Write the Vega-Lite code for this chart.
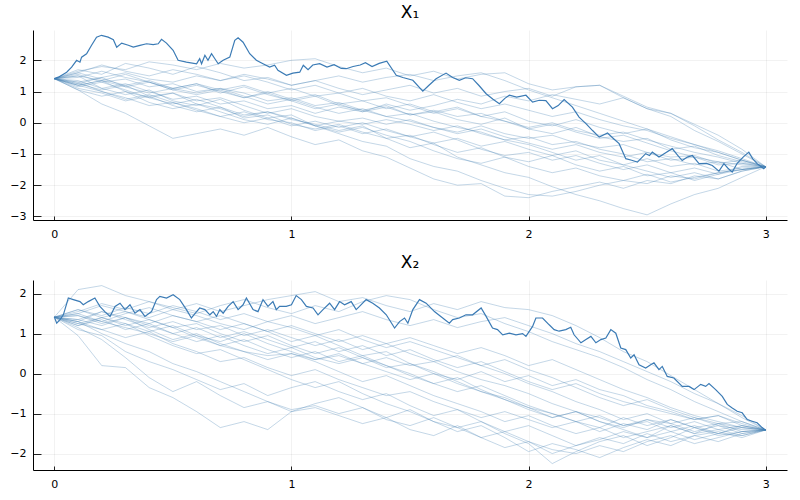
{
"$schema": "https://vega.github.io/schema/vega-lite/v6.json",
"padding": {"left": 9, "top": 4, "right": 10, "bottom": 5},
"spacing": 15,
"config": {
 "view": {"stroke": null},
 "font": "DejaVu Sans",
 "axis": {"title": null, "labelFontSize": 11, "labelColor": "#000", "labelOverlap": false, "domainColor": "#000", "domainWidth": 1, "tickColor": "#222", "gridColor": "#000", "gridOpacity": 0.08, "gridWidth": 0.7},
 "axisY": {"tickSize": -8, "labelPadding": 15},
 "axisX": {"tickSize": -4, "labelPadding": 12},
 "title": {"fontSize": 17, "fontWeight": "normal", "color": "#000", "offset": 8}
},
"datasets": {
"ad": [
{"t":0,"y":1.414},{"t":0.017,"y":1.46},{"t":0.052,"y":1.62},{"t":0.073,"y":1.78},{"t":0.094,"y":2.0},{"t":0.108,"y":1.94},{"t":0.115,"y":2.1},{"t":0.136,"y":2.21},{"t":0.157,"y":2.48},{"t":0.178,"y":2.74},{"t":0.199,"y":2.8},{"t":0.227,"y":2.74},{"t":0.249,"y":2.66},{"t":0.263,"y":2.42},{"t":0.284,"y":2.55},{"t":0.312,"y":2.48},{"t":0.333,"y":2.42},{"t":0.361,"y":2.48},{"t":0.389,"y":2.53},{"t":0.417,"y":2.5},{"t":0.438,"y":2.53},{"t":0.452,"y":2.67},{"t":0.473,"y":2.55},{"t":0.501,"y":2.32},{"t":0.522,"y":2.0},{"t":0.557,"y":1.94},{"t":0.6,"y":1.89},{"t":0.613,"y":2.05},{"t":0.621,"y":1.89},{"t":0.635,"y":2.16},{"t":0.648,"y":2.0},{"t":0.663,"y":2.21},{"t":0.677,"y":2.05},{"t":0.691,"y":1.89},{"t":0.712,"y":2.0},{"t":0.74,"y":2.1},{"t":0.761,"y":2.64},{"t":0.775,"y":2.72},{"t":0.796,"y":2.58},{"t":0.824,"y":2.21},{"t":0.852,"y":2.0},{"t":0.88,"y":1.89},{"t":0.908,"y":1.78},{"t":0.929,"y":1.84},{"t":0.943,"y":1.68},{"t":0.979,"y":1.52},{"t":1.006,"y":1.59},{"t":1.035,"y":1.62},{"t":1.05,"y":1.84},{"t":1.07,"y":1.7},{"t":1.09,"y":1.85},{"t":1.119,"y":1.89},{"t":1.15,"y":1.78},{"t":1.18,"y":1.86},{"t":1.21,"y":1.74},{"t":1.231,"y":1.73},{"t":1.26,"y":1.8},{"t":1.29,"y":1.85},{"t":1.312,"y":1.92},{"t":1.34,"y":1.8},{"t":1.37,"y":1.9},{"t":1.402,"y":1.97},{"t":1.442,"y":1.52},{"t":1.47,"y":1.45},{"t":1.512,"y":1.36},{"t":1.554,"y":1.01},{"t":1.58,"y":1.2},{"t":1.61,"y":1.41},{"t":1.652,"y":1.59},{"t":1.68,"y":1.45},{"t":1.708,"y":1.36},{"t":1.735,"y":1.44},{"t":1.764,"y":1.41},{"t":1.79,"y":1.2},{"t":1.821,"y":0.93},{"t":1.85,"y":0.75},{"t":1.877,"y":0.61},{"t":1.9,"y":0.78},{"t":1.919,"y":0.88},{"t":1.95,"y":0.82},{"t":1.989,"y":0.88},{"t":2.017,"y":0.66},{"t":2.045,"y":0.72},{"t":2.073,"y":0.71},{"t":2.101,"y":0.45},{"t":2.125,"y":0.55},{"t":2.15,"y":0.74},{"t":2.185,"y":0.5},{"t":2.213,"y":0.18},{"t":2.242,"y":-0.03},{"t":2.27,"y":-0.25},{"t":2.298,"y":-0.46},{"t":2.333,"y":-0.33},{"t":2.36,"y":-0.52},{"t":2.382,"y":-0.67},{"t":2.41,"y":-1.15},{"t":2.435,"y":-1.2},{"t":2.459,"y":-1.26},{"t":2.494,"y":-0.99},{"t":2.51,"y":-1.05},{"t":2.522,"y":-0.94},{"t":2.55,"y":-1.1},{"t":2.58,"y":-0.95},{"t":2.606,"y":-0.83},{"t":2.63,"y":-1.05},{"t":2.648,"y":-1.21},{"t":2.67,"y":-1.1},{"t":2.691,"y":-1.05},{"t":2.719,"y":-1.31},{"t":2.75,"y":-1.3},{"t":2.775,"y":-1.37},{"t":2.803,"y":-1.55},{"t":2.824,"y":-1.31},{"t":2.84,"y":-1.45},{"t":2.859,"y":-1.58},{"t":2.88,"y":-1.3},{"t":2.905,"y":-1.1},{"t":2.929,"y":-0.94},{"t":2.945,"y":-1.15},{"t":2.964,"y":-1.31},{"t":2.98,"y":-1.4},{"t":2.992,"y":-1.47},{"t":3,"y":-1.414}
],
"bd": [
{"t":0,"y":1.414},{"t":0.01,"y":1.26},{"t":0.024,"y":1.35},{"t":0.038,"y":1.47},{"t":0.059,"y":1.89},{"t":0.08,"y":1.85},{"t":0.108,"y":1.8},{"t":0.122,"y":1.72},{"t":0.143,"y":1.8},{"t":0.171,"y":1.89},{"t":0.192,"y":1.68},{"t":0.213,"y":1.55},{"t":0.235,"y":1.43},{"t":0.256,"y":1.68},{"t":0.277,"y":1.76},{"t":0.298,"y":1.6},{"t":0.319,"y":1.72},{"t":0.34,"y":1.51},{"t":0.361,"y":1.6},{"t":0.382,"y":1.43},{"t":0.41,"y":1.55},{"t":0.431,"y":1.85},{"t":0.445,"y":1.93},{"t":0.473,"y":1.89},{"t":0.501,"y":1.97},{"t":0.529,"y":1.85},{"t":0.557,"y":1.6},{"t":0.578,"y":1.39},{"t":0.6,"y":1.55},{"t":0.613,"y":1.64},{"t":0.635,"y":1.6},{"t":0.656,"y":1.47},{"t":0.67,"y":1.55},{"t":0.684,"y":1.43},{"t":0.698,"y":1.6},{"t":0.712,"y":1.51},{"t":0.733,"y":1.68},{"t":0.754,"y":1.8},{"t":0.775,"y":1.6},{"t":0.796,"y":1.72},{"t":0.81,"y":1.89},{"t":0.838,"y":1.6},{"t":0.859,"y":1.55},{"t":0.88,"y":1.85},{"t":0.901,"y":1.68},{"t":0.922,"y":1.8},{"t":0.936,"y":1.6},{"t":0.95,"y":1.68},{"t":0.978,"y":1.68},{"t":1.0,"y":1.72},{"t":1.02,"y":1.95},{"t":1.042,"y":1.85},{"t":1.063,"y":1.68},{"t":1.091,"y":1.64},{"t":1.112,"y":1.47},{"t":1.133,"y":1.6},{"t":1.161,"y":1.76},{"t":1.182,"y":1.6},{"t":1.203,"y":1.8},{"t":1.224,"y":1.72},{"t":1.252,"y":1.8},{"t":1.273,"y":1.6},{"t":1.287,"y":1.68},{"t":1.315,"y":1.85},{"t":1.343,"y":1.76},{"t":1.371,"y":1.64},{"t":1.4,"y":1.47},{"t":1.435,"y":1.14},{"t":1.456,"y":1.3},{"t":1.477,"y":1.39},{"t":1.491,"y":1.26},{"t":1.512,"y":1.6},{"t":1.54,"y":1.85},{"t":1.568,"y":1.76},{"t":1.603,"y":1.55},{"t":1.638,"y":1.39},{"t":1.666,"y":1.26},{"t":1.68,"y":1.35},{"t":1.708,"y":1.39},{"t":1.736,"y":1.47},{"t":1.764,"y":1.47},{"t":1.8,"y":1.64},{"t":1.821,"y":1.43},{"t":1.848,"y":1.14},{"t":1.869,"y":1.1},{"t":1.891,"y":0.97},{"t":1.919,"y":1.01},{"t":1.947,"y":0.97},{"t":1.975,"y":1.0},{"t":1.989,"y":0.93},{"t":2.017,"y":1.18},{"t":2.031,"y":1.39},{"t":2.059,"y":1.39},{"t":2.087,"y":1.22},{"t":2.108,"y":1.1},{"t":2.129,"y":1.06},{"t":2.157,"y":1.1},{"t":2.178,"y":1.16},{"t":2.192,"y":0.97},{"t":2.221,"y":0.77},{"t":2.242,"y":0.85},{"t":2.263,"y":0.93},{"t":2.284,"y":0.77},{"t":2.305,"y":0.85},{"t":2.326,"y":0.89},{"t":2.347,"y":1.1},{"t":2.368,"y":1.01},{"t":2.389,"y":0.64},{"t":2.41,"y":0.6},{"t":2.431,"y":0.39},{"t":2.445,"y":0.47},{"t":2.466,"y":0.22},{"t":2.494,"y":0.14},{"t":2.515,"y":0.22},{"t":2.529,"y":0.27},{"t":2.55,"y":0.1},{"t":2.564,"y":0.18},{"t":2.585,"y":-0.07},{"t":2.613,"y":-0.11},{"t":2.648,"y":-0.32},{"t":2.677,"y":-0.32},{"t":2.698,"y":-0.4},{"t":2.726,"y":-0.27},{"t":2.747,"y":-0.32},{"t":2.761,"y":-0.25},{"t":2.789,"y":-0.4},{"t":2.817,"y":-0.57},{"t":2.838,"y":-0.77},{"t":2.859,"y":-0.86},{"t":2.88,"y":-0.94},{"t":2.901,"y":-0.98},{"t":2.922,"y":-1.15},{"t":2.943,"y":-1.19},{"t":2.964,"y":-1.23},{"t":2.985,"y":-1.35},{"t":3,"y":-1.414}
],
"a": [
{"k":1,"t":0,"y":1.41},{"k":1,"t":0.1,"y":1.65},{"k":1,"t":0.2,"y":1.8},{"k":1,"t":0.3,"y":1.7},{"k":1,"t":0.4,"y":1.95},{"k":1,"t":0.5,"y":1.85},{"k":1,"t":0.6,"y":1.7},{"k":1,"t":0.7,"y":1.9},{"k":1,"t":0.8,"y":1.75},{"k":1,"t":0.9,"y":1.85},{"k":1,"t":1,"y":2.0},{"k":1,"t":1.1,"y":2.05},{"k":1,"t":1.2,"y":1.8},{"k":1,"t":1.3,"y":1.6},{"k":1,"t":1.4,"y":1.75},{"k":1,"t":1.5,"y":1.5},{"k":1,"t":1.6,"y":1.65},{"k":1,"t":1.7,"y":1.4},{"k":1,"t":1.8,"y":1.55},{"k":1,"t":1.9,"y":1.6},{"k":1,"t":2,"y":1.25},{"k":1,"t":2.1,"y":1.05},{"k":1,"t":2.2,"y":1.15},{"k":1,"t":2.3,"y":1.2},{"k":1,"t":2.4,"y":0.8},{"k":1,"t":2.5,"y":0.45},{"k":1,"t":2.6,"y":0.2},{"k":1,"t":2.7,"y":-0.25},{"k":1,"t":2.8,"y":-0.6},{"k":1,"t":2.9,"y":-1.0},{"k":1,"t":3,"y":-1.41},
{"k":2,"t":0,"y":1.41},{"k":2,"t":0.1,"y":1.05},{"k":2,"t":0.2,"y":0.6},{"k":2,"t":0.3,"y":0.3},{"k":2,"t":0.4,"y":-0.1},{"k":2,"t":0.5,"y":-0.5},{"k":2,"t":0.6,"y":-0.35},{"k":2,"t":0.7,"y":-0.2},{"k":2,"t":0.8,"y":-0.4},{"k":2,"t":0.9,"y":-0.15},{"k":2,"t":1,"y":-0.45},{"k":2,"t":1.1,"y":-0.7},{"k":2,"t":1.2,"y":-0.55},{"k":2,"t":1.3,"y":-0.9},{"k":2,"t":1.4,"y":-1.1},{"k":2,"t":1.5,"y":-1.45},{"k":2,"t":1.6,"y":-1.8},{"k":2,"t":1.7,"y":-2.0},{"k":2,"t":1.8,"y":-1.95},{"k":2,"t":1.9,"y":-2.35},{"k":2,"t":2,"y":-2.4},{"k":2,"t":2.1,"y":-2.2},{"k":2,"t":2.2,"y":-2.05},{"k":2,"t":2.3,"y":-1.9},{"k":2,"t":2.4,"y":-2.1},{"k":2,"t":2.5,"y":-1.85},{"k":2,"t":2.6,"y":-1.95},{"k":2,"t":2.7,"y":-1.7},{"k":2,"t":2.8,"y":-1.8},{"k":2,"t":2.9,"y":-1.55},{"k":2,"t":3,"y":-1.41},
{"k":3,"t":0,"y":1.41},{"k":3,"t":0.1,"y":1.2},{"k":3,"t":0.2,"y":1.35},{"k":3,"t":0.3,"y":1.0},{"k":3,"t":0.4,"y":0.8},{"k":3,"t":0.5,"y":0.95},{"k":3,"t":0.6,"y":0.6},{"k":3,"t":0.7,"y":0.45},{"k":3,"t":0.8,"y":0.2},{"k":3,"t":0.9,"y":0.35},{"k":3,"t":1,"y":0.1},{"k":3,"t":1.1,"y":-0.05},{"k":3,"t":1.2,"y":-0.25},{"k":3,"t":1.3,"y":-0.1},{"k":3,"t":1.4,"y":-0.5},{"k":3,"t":1.5,"y":-0.8},{"k":3,"t":1.6,"y":-0.65},{"k":3,"t":1.7,"y":-1.1},{"k":3,"t":1.8,"y":-1.35},{"k":3,"t":1.9,"y":-1.6},{"k":3,"t":2,"y":-1.75},{"k":3,"t":2.1,"y":-2.05},{"k":3,"t":2.2,"y":-2.3},{"k":3,"t":2.3,"y":-2.5},{"k":3,"t":2.4,"y":-2.75},{"k":3,"t":2.5,"y":-2.95},{"k":3,"t":2.6,"y":-2.6},{"k":3,"t":2.7,"y":-2.3},{"k":3,"t":2.8,"y":-2.1},{"k":3,"t":2.9,"y":-1.75},{"k":3,"t":3,"y":-1.41},
{"k":4,"t":0,"y":1.41},{"k":4,"t":0.1,"y":1.5},{"k":4,"t":0.2,"y":1.1},{"k":4,"t":0.3,"y":0.9},{"k":4,"t":0.4,"y":1.05},{"k":4,"t":0.5,"y":0.7},{"k":4,"t":0.6,"y":0.55},{"k":4,"t":0.7,"y":0.75},{"k":4,"t":0.8,"y":0.4},{"k":4,"t":0.9,"y":0.15},{"k":4,"t":1,"y":0.25},{"k":4,"t":1.1,"y":-0.1},{"k":4,"t":1.2,"y":-0.35},{"k":4,"t":1.3,"y":-0.6},{"k":4,"t":1.4,"y":-0.75},{"k":4,"t":1.5,"y":-1.15},{"k":4,"t":1.6,"y":-1.4},{"k":4,"t":1.7,"y":-1.55},{"k":4,"t":1.8,"y":-1.85},{"k":4,"t":1.9,"y":-2.1},{"k":4,"t":2,"y":-2.3},{"k":4,"t":2.1,"y":-2.35},{"k":4,"t":2.2,"y":-2.2},{"k":4,"t":2.3,"y":-2.0},{"k":4,"t":2.4,"y":-1.85},{"k":4,"t":2.5,"y":-1.95},{"k":4,"t":2.6,"y":-1.7},{"k":4,"t":2.7,"y":-1.8},{"k":4,"t":2.8,"y":-1.6},{"k":4,"t":2.9,"y":-1.5},{"k":4,"t":3,"y":-1.41},
{"k":5,"t":0,"y":1.41},{"k":5,"t":0.1,"y":1.7},{"k":5,"t":0.2,"y":1.55},{"k":5,"t":0.3,"y":1.9},{"k":5,"t":0.4,"y":1.75},{"k":5,"t":0.5,"y":1.55},{"k":5,"t":0.6,"y":1.8},{"k":5,"t":0.7,"y":1.6},{"k":5,"t":0.8,"y":1.35},{"k":5,"t":0.9,"y":1.45},{"k":5,"t":1,"y":1.2},{"k":5,"t":1.1,"y":1.35},{"k":5,"t":1.2,"y":1.1},{"k":5,"t":1.3,"y":0.9},{"k":5,"t":1.4,"y":1.05},{"k":5,"t":1.5,"y":1.2},{"k":5,"t":1.6,"y":0.95},{"k":5,"t":1.7,"y":1.1},{"k":5,"t":1.8,"y":0.85},{"k":5,"t":1.9,"y":1.0},{"k":5,"t":2,"y":1.1},{"k":5,"t":2.1,"y":0.85},{"k":5,"t":2.2,"y":1.15},{"k":5,"t":2.3,"y":1.2},{"k":5,"t":2.4,"y":0.85},{"k":5,"t":2.5,"y":0.5},{"k":5,"t":2.6,"y":0.3},{"k":5,"t":2.7,"y":-0.1},{"k":5,"t":2.8,"y":-0.55},{"k":5,"t":2.9,"y":-0.95},{"k":5,"t":3,"y":-1.41},
{"k":6,"t":0,"y":1.41},{"k":6,"t":0.1,"y":1.25},{"k":6,"t":0.2,"y":1.05},{"k":6,"t":0.3,"y":1.2},{"k":6,"t":0.4,"y":0.85},{"k":6,"t":0.5,"y":0.95},{"k":6,"t":0.6,"y":0.7},{"k":6,"t":0.7,"y":0.8},{"k":6,"t":0.8,"y":0.55},{"k":6,"t":0.9,"y":0.3},{"k":6,"t":1,"y":0.45},{"k":6,"t":1.1,"y":0.2},{"k":6,"t":1.2,"y":0.05},{"k":6,"t":1.3,"y":0.15},{"k":6,"t":1.4,"y":-0.05},{"k":6,"t":1.5,"y":0.1},{"k":6,"t":1.6,"y":-0.15},{"k":6,"t":1.7,"y":-0.3},{"k":6,"t":1.8,"y":-0.1},{"k":6,"t":1.9,"y":-0.35},{"k":6,"t":2,"y":-0.5},{"k":6,"t":2.1,"y":-0.4},{"k":6,"t":2.2,"y":-0.65},{"k":6,"t":2.3,"y":-0.8},{"k":6,"t":2.4,"y":-0.7},{"k":6,"t":2.5,"y":-0.95},{"k":6,"t":2.6,"y":-1.1},{"k":6,"t":2.7,"y":-1.05},{"k":6,"t":2.8,"y":-1.3},{"k":6,"t":2.9,"y":-1.2},{"k":6,"t":3,"y":-1.41},
{"k":7,"t":0,"y":1.41},{"k":7,"t":0.1,"y":1.55},{"k":7,"t":0.2,"y":1.3},{"k":7,"t":0.3,"y":1.4},{"k":7,"t":0.4,"y":1.15},{"k":7,"t":0.5,"y":1.25},{"k":7,"t":0.6,"y":1.0},{"k":7,"t":0.7,"y":1.1},{"k":7,"t":0.8,"y":0.95},{"k":7,"t":0.9,"y":0.7},{"k":7,"t":1,"y":0.8},{"k":7,"t":1.1,"y":0.55},{"k":7,"t":1.2,"y":0.65},{"k":7,"t":1.3,"y":0.4},{"k":7,"t":1.4,"y":0.55},{"k":7,"t":1.5,"y":0.25},{"k":7,"t":1.6,"y":0.35},{"k":7,"t":1.7,"y":0.1},{"k":7,"t":1.8,"y":-0.05},{"k":7,"t":1.9,"y":0.15},{"k":7,"t":2,"y":-0.2},{"k":7,"t":2.1,"y":-0.35},{"k":7,"t":2.2,"y":-0.15},{"k":7,"t":2.3,"y":-0.45},{"k":7,"t":2.4,"y":-0.6},{"k":7,"t":2.5,"y":-0.5},{"k":7,"t":2.6,"y":-0.85},{"k":7,"t":2.7,"y":-0.75},{"k":7,"t":2.8,"y":-1.05},{"k":7,"t":2.9,"y":-1.25},{"k":7,"t":3,"y":-1.41},
{"k":8,"t":0,"y":1.41},{"k":8,"t":0.1,"y":1.6},{"k":8,"t":0.2,"y":1.85},{"k":8,"t":0.3,"y":1.65},{"k":8,"t":0.4,"y":1.5},{"k":8,"t":0.5,"y":1.7},{"k":8,"t":0.6,"y":1.55},{"k":8,"t":0.7,"y":1.35},{"k":8,"t":0.8,"y":1.5},{"k":8,"t":0.9,"y":1.3},{"k":8,"t":1,"y":1.05},{"k":8,"t":1.1,"y":1.2},{"k":8,"t":1.2,"y":0.95},{"k":8,"t":1.3,"y":1.1},{"k":8,"t":1.4,"y":0.85},{"k":8,"t":1.5,"y":0.7},{"k":8,"t":1.6,"y":0.9},{"k":8,"t":1.7,"y":0.65},{"k":8,"t":1.8,"y":0.45},{"k":8,"t":1.9,"y":0.6},{"k":8,"t":2,"y":0.4},{"k":8,"t":2.1,"y":0.2},{"k":8,"t":2.2,"y":0.35},{"k":8,"t":2.3,"y":0.1},{"k":8,"t":2.4,"y":-0.1},{"k":8,"t":2.5,"y":-0.25},{"k":8,"t":2.6,"y":-0.5},{"k":8,"t":2.7,"y":-0.7},{"k":8,"t":2.8,"y":-0.9},{"k":8,"t":2.9,"y":-1.15},{"k":8,"t":3,"y":-1.41},
{"k":9,"t":0,"y":1.41},{"k":9,"t":0.1,"y":1.1},{"k":9,"t":0.2,"y":0.95},{"k":9,"t":0.3,"y":0.7},{"k":9,"t":0.4,"y":0.85},{"k":9,"t":0.5,"y":0.55},{"k":9,"t":0.6,"y":0.35},{"k":9,"t":0.7,"y":0.5},{"k":9,"t":0.8,"y":0.15},{"k":9,"t":0.9,"y":0.25},{"k":9,"t":1,"y":-0.05},{"k":9,"t":1.1,"y":-0.2},{"k":9,"t":1.2,"y":-0.05},{"k":9,"t":1.3,"y":-0.3},{"k":9,"t":1.4,"y":-0.5},{"k":9,"t":1.5,"y":-0.4},{"k":9,"t":1.6,"y":-0.7},{"k":9,"t":1.7,"y":-0.95},{"k":9,"t":1.8,"y":-0.8},{"k":9,"t":1.9,"y":-1.1},{"k":9,"t":2,"y":-1.25},{"k":9,"t":2.1,"y":-1.05},{"k":9,"t":2.2,"y":-1.35},{"k":9,"t":2.3,"y":-1.55},{"k":9,"t":2.4,"y":-1.4},{"k":9,"t":2.5,"y":-1.7},{"k":9,"t":2.6,"y":-1.6},{"k":9,"t":2.7,"y":-1.85},{"k":9,"t":2.8,"y":-1.65},{"k":9,"t":2.9,"y":-1.5},{"k":9,"t":3,"y":-1.41},
{"k":10,"t":0,"y":1.41},{"k":10,"t":0.1,"y":1.3},{"k":10,"t":0.2,"y":1.45},{"k":10,"t":0.3,"y":1.15},{"k":10,"t":0.4,"y":1.3},{"k":10,"t":0.5,"y":1.05},{"k":10,"t":0.6,"y":0.9},{"k":10,"t":0.7,"y":1.05},{"k":10,"t":0.8,"y":0.8},{"k":10,"t":0.9,"y":1.0},{"k":10,"t":1,"y":0.75},{"k":10,"t":1.1,"y":0.9},{"k":10,"t":1.2,"y":0.6},{"k":10,"t":1.3,"y":0.7},{"k":10,"t":1.4,"y":0.45},{"k":10,"t":1.5,"y":0.6},{"k":10,"t":1.6,"y":0.35},{"k":10,"t":1.7,"y":0.5},{"k":10,"t":1.8,"y":0.2},{"k":10,"t":1.9,"y":0.35},{"k":10,"t":2,"y":0.05},{"k":10,"t":2.1,"y":-0.1},{"k":10,"t":2.2,"y":0.1},{"k":10,"t":2.3,"y":-0.15},{"k":10,"t":2.4,"y":-0.35},{"k":10,"t":2.5,"y":-0.2},{"k":10,"t":2.6,"y":-0.55},{"k":10,"t":2.7,"y":-0.8},{"k":10,"t":2.8,"y":-0.95},{"k":10,"t":2.9,"y":-1.2},{"k":10,"t":3,"y":-1.41},
{"k":11,"t":0,"y":1.41},{"k":11,"t":0.1,"y":1.35},{"k":11,"t":0.2,"y":1.1},{"k":11,"t":0.3,"y":1.25},{"k":11,"t":0.4,"y":1.0},{"k":11,"t":0.5,"y":0.75},{"k":11,"t":0.6,"y":0.85},{"k":11,"t":0.7,"y":0.6},{"k":11,"t":0.8,"y":0.7},{"k":11,"t":0.9,"y":0.45},{"k":11,"t":1,"y":0.55},{"k":11,"t":1.1,"y":0.3},{"k":11,"t":1.2,"y":0.5},{"k":11,"t":1.3,"y":0.35},{"k":11,"t":1.4,"y":0.6},{"k":11,"t":1.5,"y":0.4},{"k":11,"t":1.6,"y":0.55},{"k":11,"t":1.7,"y":0.75},{"k":11,"t":1.8,"y":0.6},{"k":11,"t":1.9,"y":0.85},{"k":11,"t":2,"y":0.7},{"k":11,"t":2.1,"y":0.9},{"k":11,"t":2.2,"y":0.75},{"k":11,"t":2.3,"y":0.6},{"k":11,"t":2.4,"y":0.8},{"k":11,"t":2.5,"y":0.45},{"k":11,"t":2.6,"y":0.3},{"k":11,"t":2.7,"y":-0.05},{"k":11,"t":2.8,"y":-0.4},{"k":11,"t":2.9,"y":-0.85},{"k":11,"t":3,"y":-1.41},
{"k":12,"t":0,"y":1.41},{"k":12,"t":0.1,"y":1.2},{"k":12,"t":0.2,"y":1.0},{"k":12,"t":0.3,"y":0.75},{"k":12,"t":0.4,"y":0.9},{"k":12,"t":0.5,"y":0.65},{"k":12,"t":0.6,"y":0.45},{"k":12,"t":0.7,"y":0.2},{"k":12,"t":0.8,"y":0.35},{"k":12,"t":0.9,"y":0.1},{"k":12,"t":1,"y":0.0},{"k":12,"t":1.1,"y":-0.25},{"k":12,"t":1.2,"y":-0.1},{"k":12,"t":1.3,"y":-0.35},{"k":12,"t":1.4,"y":-0.2},{"k":12,"t":1.5,"y":-0.45},{"k":12,"t":1.6,"y":-0.65},{"k":12,"t":1.7,"y":-0.5},{"k":12,"t":1.8,"y":-0.75},{"k":12,"t":1.9,"y":-0.6},{"k":12,"t":2,"y":-0.85},{"k":12,"t":2.1,"y":-1.05},{"k":12,"t":2.2,"y":-0.9},{"k":12,"t":2.3,"y":-1.2},{"k":12,"t":2.4,"y":-1.35},{"k":12,"t":2.5,"y":-1.15},{"k":12,"t":2.6,"y":-1.4},{"k":12,"t":2.7,"y":-1.3},{"k":12,"t":2.8,"y":-1.55},{"k":12,"t":2.9,"y":-1.45},{"k":12,"t":3,"y":-1.41},
{"k":13,"t":0,"y":1.41},{"k":13,"t":0.1,"y":1.5},{"k":13,"t":0.2,"y":1.35},{"k":13,"t":0.3,"y":1.55},{"k":13,"t":0.4,"y":1.3},{"k":13,"t":0.5,"y":1.1},{"k":13,"t":0.6,"y":1.25},{"k":13,"t":0.7,"y":0.95},{"k":13,"t":0.8,"y":1.15},{"k":13,"t":0.9,"y":0.9},{"k":13,"t":1,"y":0.7},{"k":13,"t":1.1,"y":0.85},{"k":13,"t":1.2,"y":0.55},{"k":13,"t":1.3,"y":0.4},{"k":13,"t":1.4,"y":0.2},{"k":13,"t":1.5,"y":0.3},{"k":13,"t":1.6,"y":0.05},{"k":13,"t":1.7,"y":-0.15},{"k":13,"t":1.8,"y":-0.3},{"k":13,"t":1.9,"y":-0.55},{"k":13,"t":2,"y":-0.7},{"k":13,"t":2.1,"y":-0.95},{"k":13,"t":2.2,"y":-1.2},{"k":13,"t":2.3,"y":-1.05},{"k":13,"t":2.4,"y":-1.35},{"k":13,"t":2.5,"y":-1.55},{"k":13,"t":2.6,"y":-1.75},{"k":13,"t":2.7,"y":-1.6},{"k":13,"t":2.8,"y":-1.8},{"k":13,"t":2.9,"y":-1.55},{"k":13,"t":3,"y":-1.41},
{"k":14,"t":0,"y":1.41},{"k":14,"t":0.1,"y":1.15},{"k":14,"t":0.2,"y":1.3},{"k":14,"t":0.3,"y":1.05},{"k":14,"t":0.4,"y":0.8},{"k":14,"t":0.5,"y":0.6},{"k":14,"t":0.6,"y":0.75},{"k":14,"t":0.7,"y":0.5},{"k":14,"t":0.8,"y":0.25},{"k":14,"t":0.9,"y":0.35},{"k":14,"t":1,"y":0.15},{"k":14,"t":1.1,"y":-0.1},{"k":14,"t":1.2,"y":0.05},{"k":14,"t":1.3,"y":-0.05},{"k":14,"t":1.4,"y":0.1},{"k":14,"t":1.5,"y":-0.05},{"k":14,"t":1.6,"y":-0.25},{"k":14,"t":1.7,"y":-0.1},{"k":14,"t":1.8,"y":-0.35},{"k":14,"t":1.9,"y":-0.55},{"k":14,"t":2,"y":-0.45},{"k":14,"t":2.1,"y":-0.7},{"k":14,"t":2.2,"y":-0.6},{"k":14,"t":2.3,"y":-0.85},{"k":14,"t":2.4,"y":-1.0},{"k":14,"t":2.5,"y":-1.25},{"k":14,"t":2.6,"y":-1.15},{"k":14,"t":2.7,"y":-1.35},{"k":14,"t":2.8,"y":-1.25},{"k":14,"t":2.9,"y":-1.5},{"k":14,"t":3,"y":-1.41},
{"k":15,"t":0,"y":1.41},{"k":15,"t":0.1,"y":1.25},{"k":15,"t":0.2,"y":1.45},{"k":15,"t":0.3,"y":1.6},{"k":15,"t":0.4,"y":1.4},{"k":15,"t":0.5,"y":1.3},{"k":15,"t":0.6,"y":1.5},{"k":15,"t":0.7,"y":1.35},{"k":15,"t":0.8,"y":1.55},{"k":15,"t":0.9,"y":1.4},{"k":15,"t":1,"y":1.2},{"k":15,"t":1.1,"y":1.35},{"k":15,"t":1.2,"y":1.5},{"k":15,"t":1.3,"y":1.3},{"k":15,"t":1.4,"y":1.45},{"k":15,"t":1.5,"y":1.55},{"k":15,"t":1.6,"y":1.35},{"k":15,"t":1.7,"y":1.5},{"k":15,"t":1.8,"y":1.6},{"k":15,"t":1.9,"y":1.35},{"k":15,"t":2,"y":1.05},{"k":15,"t":2.1,"y":0.8},{"k":15,"t":2.2,"y":0.55},{"k":15,"t":2.3,"y":0.3},{"k":15,"t":2.4,"y":0.05},{"k":15,"t":2.5,"y":-0.2},{"k":15,"t":2.6,"y":-0.45},{"k":15,"t":2.7,"y":-0.7},{"k":15,"t":2.8,"y":-0.95},{"k":15,"t":2.9,"y":-1.2},{"k":15,"t":3,"y":-1.41},
{"k":16,"t":0,"y":1.41},{"k":16,"t":0.1,"y":1.3},{"k":16,"t":0.2,"y":1.0},{"k":16,"t":0.3,"y":0.8},{"k":16,"t":0.4,"y":0.55},{"k":16,"t":0.5,"y":0.65},{"k":16,"t":0.6,"y":0.4},{"k":16,"t":0.7,"y":0.2},{"k":16,"t":0.8,"y":0.0},{"k":16,"t":0.9,"y":0.15},{"k":16,"t":1,"y":-0.1},{"k":16,"t":1.1,"y":0.05},{"k":16,"t":1.2,"y":-0.15},{"k":16,"t":1.3,"y":0.0},{"k":16,"t":1.4,"y":-0.25},{"k":16,"t":1.5,"y":-0.45},{"k":16,"t":1.6,"y":-0.3},{"k":16,"t":1.7,"y":-0.55},{"k":16,"t":1.8,"y":-0.85},{"k":16,"t":1.9,"y":-1.05},{"k":16,"t":2,"y":-0.95},{"k":16,"t":2.1,"y":-1.2},{"k":16,"t":2.2,"y":-1.05},{"k":16,"t":2.3,"y":-1.3},{"k":16,"t":2.4,"y":-1.5},{"k":16,"t":2.5,"y":-1.35},{"k":16,"t":2.6,"y":-1.6},{"k":16,"t":2.7,"y":-1.45},{"k":16,"t":2.8,"y":-1.65},{"k":16,"t":2.9,"y":-1.4},{"k":16,"t":3,"y":-1.41},
{"k":17,"t":0,"y":1.41},{"k":17,"t":0.1,"y":1.6},{"k":17,"t":0.2,"y":1.4},{"k":17,"t":0.3,"y":1.2},{"k":17,"t":0.4,"y":1.35},{"k":17,"t":0.5,"y":1.1},{"k":17,"t":0.6,"y":0.95},{"k":17,"t":0.7,"y":1.1},{"k":17,"t":0.8,"y":0.85},{"k":17,"t":0.9,"y":0.6},{"k":17,"t":1,"y":0.75},{"k":17,"t":1.1,"y":0.5},{"k":17,"t":1.2,"y":0.3},{"k":17,"t":1.3,"y":0.45},{"k":17,"t":1.4,"y":0.2},{"k":17,"t":1.5,"y":0.05},{"k":17,"t":1.6,"y":-0.15},{"k":17,"t":1.7,"y":-0.35},{"k":17,"t":1.8,"y":-0.2},{"k":17,"t":1.9,"y":-0.45},{"k":17,"t":2,"y":-0.65},{"k":17,"t":2.1,"y":-0.85},{"k":17,"t":2.2,"y":-0.7},{"k":17,"t":2.3,"y":-0.95},{"k":17,"t":2.4,"y":-1.1},{"k":17,"t":2.5,"y":-0.95},{"k":17,"t":2.6,"y":-1.2},{"k":17,"t":2.7,"y":-1.1},{"k":17,"t":2.8,"y":-1.35},{"k":17,"t":2.9,"y":-1.3},{"k":17,"t":3,"y":-1.41},
{"k":18,"t":0,"y":1.41},{"k":18,"t":0.1,"y":1.2},{"k":18,"t":0.2,"y":1.35},{"k":18,"t":0.3,"y":1.15},{"k":18,"t":0.4,"y":0.95},{"k":18,"t":0.5,"y":1.1},{"k":18,"t":0.6,"y":1.25},{"k":18,"t":0.7,"y":1.05},{"k":18,"t":0.8,"y":1.2},{"k":18,"t":0.9,"y":0.95},{"k":18,"t":1,"y":1.1},{"k":18,"t":1.1,"y":0.85},{"k":18,"t":1.2,"y":0.95},{"k":18,"t":1.3,"y":0.7},{"k":18,"t":1.4,"y":0.8},{"k":18,"t":1.5,"y":0.55},{"k":18,"t":1.6,"y":0.3},{"k":18,"t":1.7,"y":0.45},{"k":18,"t":1.8,"y":0.2},{"k":18,"t":1.9,"y":0.05},{"k":18,"t":2,"y":-0.2},{"k":18,"t":2.1,"y":-0.05},{"k":18,"t":2.2,"y":-0.3},{"k":18,"t":2.3,"y":-0.5},{"k":18,"t":2.4,"y":-0.4},{"k":18,"t":2.5,"y":-0.65},{"k":18,"t":2.6,"y":-0.9},{"k":18,"t":2.7,"y":-1.1},{"k":18,"t":2.8,"y":-1.25},{"k":18,"t":2.9,"y":-1.35},{"k":18,"t":3,"y":-1.41},
{"k":19,"t":0,"y":1.41},{"k":19,"t":0.1,"y":1.05},{"k":19,"t":0.2,"y":0.85},{"k":19,"t":0.3,"y":1.0},{"k":19,"t":0.4,"y":0.65},{"k":19,"t":0.5,"y":0.45},{"k":19,"t":0.6,"y":0.6},{"k":19,"t":0.7,"y":0.35},{"k":19,"t":0.8,"y":0.1},{"k":19,"t":0.9,"y":-0.05},{"k":19,"t":1,"y":0.15},{"k":19,"t":1.1,"y":-0.1},{"k":19,"t":1.2,"y":-0.3},{"k":19,"t":1.3,"y":-0.15},{"k":19,"t":1.4,"y":-0.4},{"k":19,"t":1.5,"y":-0.6},{"k":19,"t":1.6,"y":-0.9},{"k":19,"t":1.7,"y":-1.15},{"k":19,"t":1.8,"y":-1.3},{"k":19,"t":1.9,"y":-1.1},{"k":19,"t":2,"y":-1.4},{"k":19,"t":2.1,"y":-1.6},{"k":19,"t":2.2,"y":-1.45},{"k":19,"t":2.3,"y":-1.7},{"k":19,"t":2.4,"y":-1.85},{"k":19,"t":2.5,"y":-1.65},{"k":19,"t":2.6,"y":-1.9},{"k":19,"t":2.7,"y":-1.75},{"k":19,"t":2.8,"y":-1.6},{"k":19,"t":2.9,"y":-1.5},{"k":19,"t":3,"y":-1.41},
{"k":20,"t":0,"y":1.41},{"k":20,"t":0.1,"y":1.45},{"k":20,"t":0.2,"y":1.65},{"k":20,"t":0.3,"y":1.45},{"k":20,"t":0.4,"y":1.3},{"k":20,"t":0.5,"y":1.05},{"k":20,"t":0.6,"y":1.2},{"k":20,"t":0.7,"y":1.0},{"k":20,"t":0.8,"y":0.8},{"k":20,"t":0.9,"y":0.95},{"k":20,"t":1,"y":0.7},{"k":20,"t":1.1,"y":0.45},{"k":20,"t":1.2,"y":0.6},{"k":20,"t":1.3,"y":0.35},{"k":20,"t":1.4,"y":0.5},{"k":20,"t":1.5,"y":0.25},{"k":20,"t":1.6,"y":0.4},{"k":20,"t":1.7,"y":0.2},{"k":20,"t":1.8,"y":0.3},{"k":20,"t":1.9,"y":0.05},{"k":20,"t":2,"y":-0.15},{"k":20,"t":2.1,"y":0.0},{"k":20,"t":2.2,"y":-0.25},{"k":20,"t":2.3,"y":-0.4},{"k":20,"t":2.4,"y":-0.3},{"k":20,"t":2.5,"y":-0.55},{"k":20,"t":2.6,"y":-0.75},{"k":20,"t":2.7,"y":-0.95},{"k":20,"t":2.8,"y":-1.1},{"k":20,"t":2.9,"y":-1.3},{"k":20,"t":3,"y":-1.41}
],
"b": [
{"k":1,"t":0,"y":1.41},{"k":1,"t":0.1,"y":2.1},{"k":1,"t":0.2,"y":2.2},{"k":1,"t":0.3,"y":1.95},{"k":1,"t":0.4,"y":1.8},{"k":1,"t":0.5,"y":1.6},{"k":1,"t":0.6,"y":1.75},{"k":1,"t":0.7,"y":1.55},{"k":1,"t":0.8,"y":1.7},{"k":1,"t":0.9,"y":1.85},{"k":1,"t":1,"y":1.95},{"k":1,"t":1.1,"y":2.05},{"k":1,"t":1.2,"y":1.8},{"k":1,"t":1.3,"y":1.9},{"k":1,"t":1.4,"y":1.7},{"k":1,"t":1.5,"y":1.55},{"k":1,"t":1.6,"y":1.75},{"k":1,"t":1.7,"y":1.6},{"k":1,"t":1.8,"y":1.8},{"k":1,"t":1.9,"y":1.65},{"k":1,"t":2,"y":1.6},{"k":1,"t":2.1,"y":1.45},{"k":1,"t":2.2,"y":1.2},{"k":1,"t":2.3,"y":0.9},{"k":1,"t":2.4,"y":0.55},{"k":1,"t":2.5,"y":0.3},{"k":1,"t":2.6,"y":-0.05},{"k":1,"t":2.7,"y":-0.4},{"k":1,"t":2.8,"y":-0.75},{"k":1,"t":2.9,"y":-1.1},{"k":1,"t":3,"y":-1.41},
{"k":2,"t":0,"y":1.41},{"k":2,"t":0.1,"y":0.95},{"k":2,"t":0.2,"y":0.2},{"k":2,"t":0.3,"y":0.15},{"k":2,"t":0.4,"y":-0.35},{"k":2,"t":0.5,"y":-0.6},{"k":2,"t":0.6,"y":-0.95},{"k":2,"t":0.7,"y":-1.35},{"k":2,"t":0.8,"y":-1.2},{"k":2,"t":0.9,"y":-1.4},{"k":2,"t":1,"y":-0.95},{"k":2,"t":1.1,"y":-0.85},{"k":2,"t":1.2,"y":-1.05},{"k":2,"t":1.3,"y":-1.25},{"k":2,"t":1.4,"y":-1.1},{"k":2,"t":1.5,"y":-1.4},{"k":2,"t":1.6,"y":-1.55},{"k":2,"t":1.7,"y":-1.3},{"k":2,"t":1.8,"y":-1.6},{"k":2,"t":1.9,"y":-1.85},{"k":2,"t":2,"y":-1.7},{"k":2,"t":2.1,"y":-2.0},{"k":2,"t":2.2,"y":-1.8},{"k":2,"t":2.3,"y":-1.6},{"k":2,"t":2.4,"y":-1.75},{"k":2,"t":2.5,"y":-1.5},{"k":2,"t":2.6,"y":-1.7},{"k":2,"t":2.7,"y":-1.55},{"k":2,"t":2.8,"y":-1.45},{"k":2,"t":2.9,"y":-1.6},{"k":2,"t":3,"y":-1.41},
{"k":3,"t":0,"y":1.41},{"k":3,"t":0.1,"y":1.15},{"k":3,"t":0.2,"y":0.85},{"k":3,"t":0.3,"y":0.4},{"k":3,"t":0.4,"y":-0.1},{"k":3,"t":0.5,"y":-0.45},{"k":3,"t":0.6,"y":-0.2},{"k":3,"t":0.7,"y":-0.55},{"k":3,"t":0.8,"y":-0.85},{"k":3,"t":0.9,"y":-0.7},{"k":3,"t":1,"y":-0.95},{"k":3,"t":1.1,"y":-0.75},{"k":3,"t":1.2,"y":-0.6},{"k":3,"t":1.3,"y":-0.85},{"k":3,"t":1.4,"y":-1.1},{"k":3,"t":1.5,"y":-0.9},{"k":3,"t":1.6,"y":-1.2},{"k":3,"t":1.7,"y":-1.35},{"k":3,"t":1.8,"y":-1.2},{"k":3,"t":1.9,"y":-1.5},{"k":3,"t":2,"y":-1.75},{"k":3,"t":2.1,"y":-2.25},{"k":3,"t":2.2,"y":-1.95},{"k":3,"t":2.3,"y":-1.7},{"k":3,"t":2.4,"y":-1.55},{"k":3,"t":2.5,"y":-1.8},{"k":3,"t":2.6,"y":-1.6},{"k":3,"t":2.7,"y":-1.35},{"k":3,"t":2.8,"y":-1.55},{"k":3,"t":2.9,"y":-1.45},{"k":3,"t":3,"y":-1.41},
{"k":4,"t":0,"y":1.41},{"k":4,"t":0.1,"y":1.6},{"k":4,"t":0.2,"y":1.4},{"k":4,"t":0.3,"y":1.55},{"k":4,"t":0.4,"y":1.35},{"k":4,"t":0.5,"y":1.15},{"k":4,"t":0.6,"y":1.25},{"k":4,"t":0.7,"y":1.0},{"k":4,"t":0.8,"y":0.8},{"k":4,"t":0.9,"y":0.95},{"k":4,"t":1,"y":0.7},{"k":4,"t":1.1,"y":0.5},{"k":4,"t":1.2,"y":0.65},{"k":4,"t":1.3,"y":0.4},{"k":4,"t":1.4,"y":0.2},{"k":4,"t":1.5,"y":0.0},{"k":4,"t":1.6,"y":-0.25},{"k":4,"t":1.7,"y":-0.1},{"k":4,"t":1.8,"y":-0.4},{"k":4,"t":1.9,"y":-0.65},{"k":4,"t":2,"y":-0.85},{"k":4,"t":2.1,"y":-1.1},{"k":4,"t":2.2,"y":-0.95},{"k":4,"t":2.3,"y":-1.2},{"k":4,"t":2.4,"y":-1.35},{"k":4,"t":2.5,"y":-1.15},{"k":4,"t":2.6,"y":-1.25},{"k":4,"t":2.7,"y":-1.45},{"k":4,"t":2.8,"y":-1.3},{"k":4,"t":2.9,"y":-1.5},{"k":4,"t":3,"y":-1.41},
{"k":5,"t":0,"y":1.41},{"k":5,"t":0.1,"y":1.3},{"k":5,"t":0.2,"y":1.55},{"k":5,"t":0.3,"y":1.4},{"k":5,"t":0.4,"y":1.25},{"k":5,"t":0.5,"y":1.45},{"k":5,"t":0.6,"y":1.3},{"k":5,"t":0.7,"y":1.1},{"k":5,"t":0.8,"y":1.25},{"k":5,"t":0.9,"y":1.05},{"k":5,"t":1,"y":0.8},{"k":5,"t":1.1,"y":0.95},{"k":5,"t":1.2,"y":0.7},{"k":5,"t":1.3,"y":0.45},{"k":5,"t":1.4,"y":0.55},{"k":5,"t":1.5,"y":0.25},{"k":5,"t":1.6,"y":0.05},{"k":5,"t":1.7,"y":-0.2},{"k":5,"t":1.8,"y":-0.45},{"k":5,"t":1.9,"y":-0.6},{"k":5,"t":2,"y":-0.85},{"k":5,"t":2.1,"y":-1.0},{"k":5,"t":2.2,"y":-1.2},{"k":5,"t":2.3,"y":-1.05},{"k":5,"t":2.4,"y":-1.3},{"k":5,"t":2.5,"y":-1.2},{"k":5,"t":2.6,"y":-1.45},{"k":5,"t":2.7,"y":-1.3},{"k":5,"t":2.8,"y":-1.5},{"k":5,"t":2.9,"y":-1.35},{"k":5,"t":3,"y":-1.41},
{"k":6,"t":0,"y":1.41},{"k":6,"t":0.1,"y":1.55},{"k":6,"t":0.2,"y":1.75},{"k":6,"t":0.3,"y":1.6},{"k":6,"t":0.4,"y":1.8},{"k":6,"t":0.5,"y":1.65},{"k":6,"t":0.6,"y":1.5},{"k":6,"t":0.7,"y":1.7},{"k":6,"t":0.8,"y":1.85},{"k":6,"t":0.9,"y":1.65},{"k":6,"t":1,"y":1.5},{"k":6,"t":1.1,"y":1.7},{"k":6,"t":1.2,"y":1.55},{"k":6,"t":1.3,"y":1.8},{"k":6,"t":1.4,"y":1.95},{"k":6,"t":1.5,"y":1.85},{"k":6,"t":1.6,"y":1.6},{"k":6,"t":1.7,"y":1.4},{"k":6,"t":1.8,"y":1.5},{"k":6,"t":1.9,"y":1.25},{"k":6,"t":2,"y":1.05},{"k":6,"t":2.1,"y":0.8},{"k":6,"t":2.2,"y":0.6},{"k":6,"t":2.3,"y":0.4},{"k":6,"t":2.4,"y":0.15},{"k":6,"t":2.5,"y":-0.15},{"k":6,"t":2.6,"y":-0.4},{"k":6,"t":2.7,"y":-0.7},{"k":6,"t":2.8,"y":-0.95},{"k":6,"t":2.9,"y":-1.2},{"k":6,"t":3,"y":-1.41},
{"k":7,"t":0,"y":1.41},{"k":7,"t":0.1,"y":1.25},{"k":7,"t":0.2,"y":1.4},{"k":7,"t":0.3,"y":1.2},{"k":7,"t":0.4,"y":1.35},{"k":7,"t":0.5,"y":1.15},{"k":7,"t":0.6,"y":0.9},{"k":7,"t":0.7,"y":0.7},{"k":7,"t":0.8,"y":0.85},{"k":7,"t":0.9,"y":0.6},{"k":7,"t":1,"y":0.4},{"k":7,"t":1.1,"y":0.55},{"k":7,"t":1.2,"y":0.3},{"k":7,"t":1.3,"y":0.45},{"k":7,"t":1.4,"y":0.2},{"k":7,"t":1.5,"y":-0.05},{"k":7,"t":1.6,"y":-0.25},{"k":7,"t":1.7,"y":-0.45},{"k":7,"t":1.8,"y":-0.3},{"k":7,"t":1.9,"y":-0.55},{"k":7,"t":2,"y":-0.8},{"k":7,"t":2.1,"y":-1.0},{"k":7,"t":2.2,"y":-1.2},{"k":7,"t":2.3,"y":-1.35},{"k":7,"t":2.4,"y":-1.1},{"k":7,"t":2.5,"y":-1.3},{"k":7,"t":2.6,"y":-1.15},{"k":7,"t":2.7,"y":-1.35},{"k":7,"t":2.8,"y":-1.25},{"k":7,"t":2.9,"y":-1.45},{"k":7,"t":3,"y":-1.41},
{"k":8,"t":0,"y":1.41},{"k":8,"t":0.1,"y":1.35},{"k":8,"t":0.2,"y":1.2},{"k":8,"t":0.3,"y":1.4},{"k":8,"t":0.4,"y":1.1},{"k":8,"t":0.5,"y":0.85},{"k":8,"t":0.6,"y":1.0},{"k":8,"t":0.7,"y":0.75},{"k":8,"t":0.8,"y":0.55},{"k":8,"t":0.9,"y":0.35},{"k":8,"t":1,"y":0.5},{"k":8,"t":1.1,"y":0.3},{"k":8,"t":1.2,"y":0.05},{"k":8,"t":1.3,"y":-0.2},{"k":8,"t":1.4,"y":-0.05},{"k":8,"t":1.5,"y":-0.3},{"k":8,"t":1.6,"y":-0.55},{"k":8,"t":1.7,"y":-0.75},{"k":8,"t":1.8,"y":-0.95},{"k":8,"t":1.9,"y":-1.2},{"k":8,"t":2,"y":-1.05},{"k":8,"t":2.1,"y":-1.3},{"k":8,"t":2.2,"y":-1.5},{"k":8,"t":2.3,"y":-1.35},{"k":8,"t":2.4,"y":-1.6},{"k":8,"t":2.5,"y":-1.45},{"k":8,"t":2.6,"y":-1.3},{"k":8,"t":2.7,"y":-1.5},{"k":8,"t":2.8,"y":-1.4},{"k":8,"t":2.9,"y":-1.55},{"k":8,"t":3,"y":-1.41},
{"k":9,"t":0,"y":1.41},{"k":9,"t":0.1,"y":1.5},{"k":9,"t":0.2,"y":1.3},{"k":9,"t":0.3,"y":1.15},{"k":9,"t":0.4,"y":1.0},{"k":9,"t":0.5,"y":0.8},{"k":9,"t":0.6,"y":0.95},{"k":9,"t":0.7,"y":0.7},{"k":9,"t":0.8,"y":0.55},{"k":9,"t":0.9,"y":0.45},{"k":9,"t":1,"y":0.5},{"k":9,"t":1.1,"y":0.35},{"k":9,"t":1.2,"y":0.45},{"k":9,"t":1.3,"y":0.25},{"k":9,"t":1.4,"y":0.4},{"k":9,"t":1.5,"y":0.2},{"k":9,"t":1.6,"y":0.3},{"k":9,"t":1.7,"y":0.05},{"k":9,"t":1.8,"y":-0.15},{"k":9,"t":1.9,"y":-0.3},{"k":9,"t":2,"y":-0.5},{"k":9,"t":2.1,"y":-0.75},{"k":9,"t":2.2,"y":-0.95},{"k":9,"t":2.3,"y":-1.1},{"k":9,"t":2.4,"y":-1.3},{"k":9,"t":2.5,"y":-1.15},{"k":9,"t":2.6,"y":-1.35},{"k":9,"t":2.7,"y":-1.2},{"k":9,"t":2.8,"y":-1.4},{"k":9,"t":2.9,"y":-1.3},{"k":9,"t":3,"y":-1.41},
{"k":10,"t":0,"y":1.41},{"k":10,"t":0.1,"y":1.2},{"k":10,"t":0.2,"y":1.35},{"k":10,"t":0.3,"y":1.1},{"k":10,"t":0.4,"y":1.25},{"k":10,"t":0.5,"y":1.0},{"k":10,"t":0.6,"y":1.15},{"k":10,"t":0.7,"y":0.9},{"k":10,"t":0.8,"y":1.05},{"k":10,"t":0.9,"y":0.85},{"k":10,"t":1,"y":0.65},{"k":10,"t":1.1,"y":0.8},{"k":10,"t":1.2,"y":0.55},{"k":10,"t":1.3,"y":0.7},{"k":10,"t":1.4,"y":0.45},{"k":10,"t":1.5,"y":0.6},{"k":10,"t":1.6,"y":0.35},{"k":10,"t":1.7,"y":0.15},{"k":10,"t":1.8,"y":0.3},{"k":10,"t":1.9,"y":0.05},{"k":10,"t":2,"y":-0.2},{"k":10,"t":2.1,"y":-0.4},{"k":10,"t":2.2,"y":-0.25},{"k":10,"t":2.3,"y":-0.5},{"k":10,"t":2.4,"y":-0.7},{"k":10,"t":2.5,"y":-0.85},{"k":10,"t":2.6,"y":-1.0},{"k":10,"t":2.7,"y":-1.15},{"k":10,"t":2.8,"y":-1.05},{"k":10,"t":2.9,"y":-1.3},{"k":10,"t":3,"y":-1.41},
{"k":11,"t":0,"y":1.41},{"k":11,"t":0.1,"y":1.1},{"k":11,"t":0.2,"y":0.95},{"k":11,"t":0.3,"y":0.55},{"k":11,"t":0.4,"y":0.3},{"k":11,"t":0.5,"y":0.1},{"k":11,"t":0.6,"y":-0.15},{"k":11,"t":0.7,"y":-0.4},{"k":11,"t":0.8,"y":-0.25},{"k":11,"t":0.9,"y":-0.55},{"k":11,"t":1,"y":-0.35},{"k":11,"t":1.1,"y":-0.2},{"k":11,"t":1.2,"y":-0.45},{"k":11,"t":1.3,"y":-0.65},{"k":11,"t":1.4,"y":-0.5},{"k":11,"t":1.5,"y":-0.8},{"k":11,"t":1.6,"y":-1.05},{"k":11,"t":1.7,"y":-0.9},{"k":11,"t":1.8,"y":-1.2},{"k":11,"t":1.9,"y":-1.45},{"k":11,"t":2,"y":-1.3},{"k":11,"t":2.1,"y":-1.55},{"k":11,"t":2.2,"y":-1.8},{"k":11,"t":2.3,"y":-1.65},{"k":11,"t":2.4,"y":-1.45},{"k":11,"t":2.5,"y":-1.6},{"k":11,"t":2.6,"y":-1.3},{"k":11,"t":2.7,"y":-1.5},{"k":11,"t":2.8,"y":-1.25},{"k":11,"t":2.9,"y":-1.35},{"k":11,"t":3,"y":-1.41},
{"k":12,"t":0,"y":1.41},{"k":12,"t":0.1,"y":1.45},{"k":12,"t":0.2,"y":1.25},{"k":12,"t":0.3,"y":1.4},{"k":12,"t":0.4,"y":1.2},{"k":12,"t":0.5,"y":1.0},{"k":12,"t":0.6,"y":0.8},{"k":12,"t":0.7,"y":0.95},{"k":12,"t":0.8,"y":0.7},{"k":12,"t":0.9,"y":0.5},{"k":12,"t":1,"y":0.65},{"k":12,"t":1.1,"y":0.4},{"k":12,"t":1.2,"y":0.25},{"k":12,"t":1.3,"y":0.4},{"k":12,"t":1.4,"y":0.15},{"k":12,"t":1.5,"y":0.25},{"k":12,"t":1.6,"y":0.0},{"k":12,"t":1.7,"y":-0.15},{"k":12,"t":1.8,"y":0.05},{"k":12,"t":1.9,"y":-0.2},{"k":12,"t":2,"y":-0.05},{"k":12,"t":2.1,"y":-0.3},{"k":12,"t":2.2,"y":-0.15},{"k":12,"t":2.3,"y":-0.4},{"k":12,"t":2.4,"y":-0.55},{"k":12,"t":2.5,"y":-0.8},{"k":12,"t":2.6,"y":-0.95},{"k":12,"t":2.7,"y":-1.15},{"k":12,"t":2.8,"y":-1.05},{"k":12,"t":2.9,"y":-1.25},{"k":12,"t":3,"y":-1.41},
{"k":13,"t":0,"y":1.41},{"k":13,"t":0.1,"y":1.6},{"k":13,"t":0.2,"y":1.45},{"k":13,"t":0.3,"y":1.65},{"k":13,"t":0.4,"y":1.5},{"k":13,"t":0.5,"y":1.7},{"k":13,"t":0.6,"y":1.55},{"k":13,"t":0.7,"y":1.35},{"k":13,"t":0.8,"y":1.5},{"k":13,"t":0.9,"y":1.3},{"k":13,"t":1,"y":1.45},{"k":13,"t":1.1,"y":1.25},{"k":13,"t":1.2,"y":1.4},{"k":13,"t":1.3,"y":1.55},{"k":13,"t":1.4,"y":1.35},{"k":13,"t":1.5,"y":1.2},{"k":13,"t":1.6,"y":1.35},{"k":13,"t":1.7,"y":1.15},{"k":13,"t":1.8,"y":1.3},{"k":13,"t":1.9,"y":1.4},{"k":13,"t":2,"y":1.2},{"k":13,"t":2.1,"y":1.0},{"k":13,"t":2.2,"y":0.75},{"k":13,"t":2.3,"y":0.55},{"k":13,"t":2.4,"y":0.3},{"k":13,"t":2.5,"y":0.05},{"k":13,"t":2.6,"y":-0.2},{"k":13,"t":2.7,"y":-0.5},{"k":13,"t":2.8,"y":-0.75},{"k":13,"t":2.9,"y":-1.05},{"k":13,"t":3,"y":-1.41},
{"k":14,"t":0,"y":1.41},{"k":14,"t":0.1,"y":1.3},{"k":14,"t":0.2,"y":1.1},{"k":14,"t":0.3,"y":0.9},{"k":14,"t":0.4,"y":1.05},{"k":14,"t":0.5,"y":0.75},{"k":14,"t":0.6,"y":0.55},{"k":14,"t":0.7,"y":0.3},{"k":14,"t":0.8,"y":0.4},{"k":14,"t":0.9,"y":0.15},{"k":14,"t":1,"y":-0.05},{"k":14,"t":1.1,"y":0.1},{"k":14,"t":1.2,"y":-0.15},{"k":14,"t":1.3,"y":-0.35},{"k":14,"t":1.4,"y":-0.55},{"k":14,"t":1.5,"y":-0.45},{"k":14,"t":1.6,"y":-0.7},{"k":14,"t":1.7,"y":-0.9},{"k":14,"t":1.8,"y":-1.1},{"k":14,"t":1.9,"y":-0.95},{"k":14,"t":2,"y":-1.15},{"k":14,"t":2.1,"y":-1.35},{"k":14,"t":2.2,"y":-1.2},{"k":14,"t":2.3,"y":-1.45},{"k":14,"t":2.4,"y":-1.25},{"k":14,"t":2.5,"y":-1.4},{"k":14,"t":2.6,"y":-1.15},{"k":14,"t":2.7,"y":-1.35},{"k":14,"t":2.8,"y":-1.5},{"k":14,"t":2.9,"y":-1.3},{"k":14,"t":3,"y":-1.41},
{"k":15,"t":0,"y":1.41},{"k":15,"t":0.1,"y":1.5},{"k":15,"t":0.2,"y":1.7},{"k":15,"t":0.3,"y":1.55},{"k":15,"t":0.4,"y":1.4},{"k":15,"t":0.5,"y":1.6},{"k":15,"t":0.6,"y":1.45},{"k":15,"t":0.7,"y":1.25},{"k":15,"t":0.8,"y":1.1},{"k":15,"t":0.9,"y":1.3},{"k":15,"t":1,"y":1.15},{"k":15,"t":1.1,"y":0.95},{"k":15,"t":1.2,"y":1.1},{"k":15,"t":1.3,"y":0.85},{"k":15,"t":1.4,"y":0.65},{"k":15,"t":1.5,"y":0.8},{"k":15,"t":1.6,"y":0.6},{"k":15,"t":1.7,"y":0.4},{"k":15,"t":1.8,"y":0.2},{"k":15,"t":1.9,"y":0.35},{"k":15,"t":2,"y":0.1},{"k":15,"t":2.1,"y":-0.1},{"k":15,"t":2.2,"y":-0.35},{"k":15,"t":2.3,"y":-0.6},{"k":15,"t":2.4,"y":-0.8},{"k":15,"t":2.5,"y":-0.65},{"k":15,"t":2.6,"y":-0.9},{"k":15,"t":2.7,"y":-1.1},{"k":15,"t":2.8,"y":-1.25},{"k":15,"t":2.9,"y":-1.2},{"k":15,"t":3,"y":-1.41},
{"k":16,"t":0,"y":1.41},{"k":16,"t":0.1,"y":1.25},{"k":16,"t":0.2,"y":1.1},{"k":16,"t":0.3,"y":1.25},{"k":16,"t":0.4,"y":0.95},{"k":16,"t":0.5,"y":0.7},{"k":16,"t":0.6,"y":0.5},{"k":16,"t":0.7,"y":0.6},{"k":16,"t":0.8,"y":0.35},{"k":16,"t":0.9,"y":0.1},{"k":16,"t":1,"y":-0.15},{"k":16,"t":1.1,"y":-0.35},{"k":16,"t":1.2,"y":-0.2},{"k":16,"t":1.3,"y":-0.5},{"k":16,"t":1.4,"y":-0.75},{"k":16,"t":1.5,"y":-0.95},{"k":16,"t":1.6,"y":-1.2},{"k":16,"t":1.7,"y":-1.45},{"k":16,"t":1.8,"y":-1.3},{"k":16,"t":1.9,"y":-1.6},{"k":16,"t":2,"y":-1.95},{"k":16,"t":2.1,"y":-1.75},{"k":16,"t":2.2,"y":-1.9},{"k":16,"t":2.3,"y":-2.1},{"k":16,"t":2.4,"y":-1.85},{"k":16,"t":2.5,"y":-1.65},{"k":16,"t":2.6,"y":-1.8},{"k":16,"t":2.7,"y":-1.55},{"k":16,"t":2.8,"y":-1.7},{"k":16,"t":2.9,"y":-1.5},{"k":16,"t":3,"y":-1.41},
{"k":17,"t":0,"y":1.41},{"k":17,"t":0.1,"y":1.35},{"k":17,"t":0.2,"y":1.55},{"k":17,"t":0.3,"y":1.35},{"k":17,"t":0.4,"y":1.15},{"k":17,"t":0.5,"y":1.3},{"k":17,"t":0.6,"y":1.1},{"k":17,"t":0.7,"y":1.2},{"k":17,"t":0.8,"y":0.95},{"k":17,"t":0.9,"y":1.1},{"k":17,"t":1,"y":0.9},{"k":17,"t":1.1,"y":0.7},{"k":17,"t":1.2,"y":0.85},{"k":17,"t":1.3,"y":0.6},{"k":17,"t":1.4,"y":0.75},{"k":17,"t":1.5,"y":0.5},{"k":17,"t":1.6,"y":0.3},{"k":17,"t":1.7,"y":0.45},{"k":17,"t":1.8,"y":0.2},{"k":17,"t":1.9,"y":0.0},{"k":17,"t":2,"y":-0.25},{"k":17,"t":2.1,"y":-0.45},{"k":17,"t":2.2,"y":-0.7},{"k":17,"t":2.3,"y":-0.9},{"k":17,"t":2.4,"y":-1.15},{"k":17,"t":2.5,"y":-1.0},{"k":17,"t":2.6,"y":-1.25},{"k":17,"t":2.7,"y":-1.1},{"k":17,"t":2.8,"y":-1.3},{"k":17,"t":2.9,"y":-1.4},{"k":17,"t":3,"y":-1.41},
{"k":18,"t":0,"y":1.41},{"k":18,"t":0.1,"y":1.2},{"k":18,"t":0.2,"y":1.4},{"k":18,"t":0.3,"y":1.25},{"k":18,"t":0.4,"y":1.05},{"k":18,"t":0.5,"y":1.2},{"k":18,"t":0.6,"y":0.95},{"k":18,"t":0.7,"y":0.8},{"k":18,"t":0.8,"y":1.0},{"k":18,"t":0.9,"y":0.75},{"k":18,"t":1,"y":0.55},{"k":18,"t":1.1,"y":0.35},{"k":18,"t":1.2,"y":0.5},{"k":18,"t":1.3,"y":0.25},{"k":18,"t":1.4,"y":0.05},{"k":18,"t":1.5,"y":-0.15},{"k":18,"t":1.6,"y":0.0},{"k":18,"t":1.7,"y":-0.25},{"k":18,"t":1.8,"y":-0.45},{"k":18,"t":1.9,"y":-0.65},{"k":18,"t":2,"y":-0.9},{"k":18,"t":2.1,"y":-1.1},{"k":18,"t":2.2,"y":-0.95},{"k":18,"t":2.3,"y":-1.2},{"k":18,"t":2.4,"y":-1.4},{"k":18,"t":2.5,"y":-1.6},{"k":18,"t":2.6,"y":-1.45},{"k":18,"t":2.7,"y":-1.65},{"k":18,"t":2.8,"y":-1.5},{"k":18,"t":2.9,"y":-1.55},{"k":18,"t":3,"y":-1.41},
{"k":19,"t":0,"y":1.41},{"k":19,"t":0.1,"y":1.3},{"k":19,"t":0.2,"y":1.0},{"k":19,"t":0.3,"y":0.75},{"k":19,"t":0.4,"y":0.55},{"k":19,"t":0.5,"y":0.25},{"k":19,"t":0.6,"y":0.05},{"k":19,"t":0.7,"y":-0.2},{"k":19,"t":0.8,"y":-0.45},{"k":19,"t":0.9,"y":-0.7},{"k":19,"t":1,"y":-0.9},{"k":19,"t":1.1,"y":-0.8},{"k":19,"t":1.2,"y":-1.0},{"k":19,"t":1.3,"y":-0.85},{"k":19,"t":1.4,"y":-1.15},{"k":19,"t":1.5,"y":-1.3},{"k":19,"t":1.6,"y":-1.1},{"k":19,"t":1.7,"y":-1.35},{"k":19,"t":1.8,"y":-1.6},{"k":19,"t":1.9,"y":-1.45},{"k":19,"t":2,"y":-1.7},{"k":19,"t":2.1,"y":-1.9},{"k":19,"t":2.2,"y":-2.0},{"k":19,"t":2.3,"y":-1.8},{"k":19,"t":2.4,"y":-1.95},{"k":19,"t":2.5,"y":-1.7},{"k":19,"t":2.6,"y":-1.55},{"k":19,"t":2.7,"y":-1.75},{"k":19,"t":2.8,"y":-1.6},{"k":19,"t":2.9,"y":-1.45},{"k":19,"t":3,"y":-1.41},
{"k":20,"t":0,"y":1.41},{"k":20,"t":0.1,"y":1.45},{"k":20,"t":0.2,"y":1.3},{"k":20,"t":0.3,"y":1.5},{"k":20,"t":0.4,"y":1.65},{"k":20,"t":0.5,"y":1.45},{"k":20,"t":0.6,"y":1.3},{"k":20,"t":0.7,"y":1.45},{"k":20,"t":0.8,"y":1.25},{"k":20,"t":0.9,"y":1.05},{"k":20,"t":1,"y":1.2},{"k":20,"t":1.1,"y":1.0},{"k":20,"t":1.2,"y":0.8},{"k":20,"t":1.3,"y":0.95},{"k":20,"t":1.4,"y":0.75},{"k":20,"t":1.5,"y":0.9},{"k":20,"t":1.6,"y":0.7},{"k":20,"t":1.7,"y":0.5},{"k":20,"t":1.8,"y":0.65},{"k":20,"t":1.9,"y":0.45},{"k":20,"t":2,"y":0.2},{"k":20,"t":2.1,"y":0.35},{"k":20,"t":2.2,"y":0.1},{"k":20,"t":2.3,"y":-0.15},{"k":20,"t":2.4,"y":-0.4},{"k":20,"t":2.5,"y":-0.6},{"k":20,"t":2.6,"y":-0.85},{"k":20,"t":2.7,"y":-1.05},{"k":20,"t":2.8,"y":-1.2},{"k":20,"t":2.9,"y":-1.35},{"k":20,"t":3,"y":-1.41}
]
},
"vconcat": [
{
 "width": 754, "height": 190,
 "title": {"text": "X₁"},
 "layer": [
  {"data": {"name": "a"}, "mark": {"type": "line", "strokeWidth": 1, "opacity": 0.32, "color": "#4682b4"},
   "encoding": {
    "x": {"field": "t", "type": "quantitative", "scale": {"domain": [-0.09, 3.09], "nice": false, "zero": false}, "axis": {"values": [0, 1, 2, 3], "tickCount": 10, "format": "d", "labelOverlap": false}},
    "y": {"field": "y", "type": "quantitative", "scale": {"domain": [-3.115, 2.97], "nice": false, "zero": false}, "axis": {"values": [-3, -2, -1, 0, 1, 2], "tickCount": 10, "format": "d", "labelOverlap": false}},
    "detail": {"field": "k", "type": "nominal"}
   }},
  {"data": {"name": "ad"}, "mark": {"type": "line", "strokeWidth": 1.2, "color": "#3b7bb5"},
   "encoding": {
    "x": {"field": "t", "type": "quantitative"},
    "y": {"field": "y", "type": "quantitative"}
   }}
 ]
},
{
 "width": 754, "height": 190,
 "title": {"text": "X₂"},
 "layer": [
  {"data": {"name": "b"}, "mark": {"type": "line", "strokeWidth": 1, "opacity": 0.32, "color": "#4682b4"},
   "encoding": {
    "x": {"field": "t", "type": "quantitative", "scale": {"domain": [-0.09, 3.09], "nice": false, "zero": false}, "axis": {"values": [0, 1, 2, 3], "tickCount": 10, "format": "d", "labelOverlap": false}},
    "y": {"field": "y", "type": "quantitative", "scale": {"domain": [-2.41, 2.34], "nice": false, "zero": false}, "axis": {"values": [-2, -1, 0, 1, 2], "tickCount": 10, "format": "d", "labelOverlap": false}},
    "detail": {"field": "k", "type": "nominal"}
   }},
  {"data": {"name": "bd"}, "mark": {"type": "line", "strokeWidth": 1.2, "color": "#3b7bb5"},
   "encoding": {
    "x": {"field": "t", "type": "quantitative"},
    "y": {"field": "y", "type": "quantitative"}
   }}
 ]
}
]
}
